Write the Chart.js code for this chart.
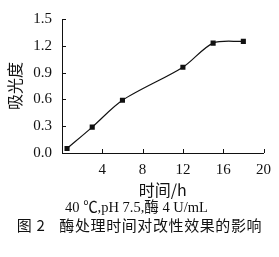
<!DOCTYPE html>
<html>
<head>
<meta charset="utf-8">
<script src="https://cdn.jsdelivr.net/npm/chart.js@4"></script>
<style>
  body { margin: 0; background: #fff; }
  #wrap { position: relative; width: 279px; height: 257px; }
  .cap { position: absolute; left: 0; width: 279px; text-align: center; color: #111; white-space: pre; }
</style>
</head>
<body>
<div id="wrap">
  <canvas id="c" width="279" height="200" style="width:279px;height:200px"></canvas>
  <div class="cap" style="top:195px;left:-3px;font:14.5px 'Liberation Serif','Noto Sans CJK SC';">40 ℃,pH 7.5,酶 4 U/mL</div>
  <div class="cap" style="top:214px;font:15px 'Noto Sans CJK SC';letter-spacing:0.6px;"><span>图 2</span><span style="margin-left:14px">酶处理时间对改性效果的影响</span></div>
</div>
<script>
// time (h) vs absorbance
const times = [0.5, 3, 6, 12, 15, 18];
const absorbance = [0.05, 0.29, 0.59, 0.96, 1.23, 1.25];
const xTicks = [0, 4, 8, 12, 16, 20];
const yTicks = [0, 0.3, 0.6, 0.9, 1.2, 1.5];

const ink = '#111';
const numFont = { family: "'Liberation Serif', 'Times New Roman', serif", size: 15 };
const cjkFont = { family: "'Noto Sans CJK SC', sans-serif", size: 16 };

// short ticks pointing into the plot
const innerTicks = {
  id: 'innerTicks',
  afterDraw(chart) {
    const { ctx, scales: { x, y } } = chart;
    ctx.save();
    ctx.strokeStyle = ink;
    ctx.lineWidth = 1;
    ctx.beginPath();
    xTicks.forEach(v => {
      const px = Math.round(x.getPixelForValue(v)) + 0.5;
      ctx.moveTo(px, y.bottom);
      ctx.lineTo(px, y.bottom - 4);
    });
    yTicks.forEach(v => {
      const py = Math.round(y.getPixelForValue(v)) + 0.5;
      ctx.moveTo(x.left, py);
      ctx.lineTo(x.left + 4, py);
    });
    ctx.stroke();
    ctx.restore();
  }
};

new Chart(document.getElementById('c'), {
  type: 'scatter',
  data: {
    datasets: [{
      data: times.map((t, i) => ({ x: t, y: absorbance[i] })),
      showLine: true,
      tension: 0.3,
      borderColor: ink,
      borderWidth: 1.2,
      backgroundColor: ink,
      pointStyle: 'rect',
      pointRadius: 3.6,
      pointBorderWidth: 0
    }]
  },
  options: {
    responsive: false,
    animation: false,
    layout: { padding: { top: 9, right: 15, left: 0, bottom: 0 } },
    plugins: { legend: { display: false }, tooltip: { enabled: false } },
    scales: {
      x: {
        type: 'linear',
        min: 0, max: 20,
        afterBuildTicks: s => { s.ticks = xTicks.map(v => ({ value: v })); },
        afterFit: s => { s.height = 47; },
        ticks: {
          color: ink, font: numFont, padding: 8,
          callback: v => (v === 0 ? '' : v)
        },
        grid: { display: false, drawTicks: false },
        border: { color: ink, width: 1 },
        title: { display: true, text: '时间/h', color: ink, font: cjkFont, padding: { top: 0, bottom: 0 } }
      },
      y: {
        min: 0, max: 1.5,
        afterBuildTicks: s => { s.ticks = yTicks.map(v => ({ value: v })); },
        afterFit: s => { s.width = 62; },
        ticks: {
          color: ink, font: numFont, padding: 10,
          callback: v => v.toFixed(1)
        },
        grid: { display: false, drawTicks: false },
        border: { color: ink, width: 1 },
        title: { display: true, text: '吸光度', color: ink, font: cjkFont, padding: { top: 5, bottom: 0 } }
      }
    }
  },
  plugins: [innerTicks]
});
</script>
</body>
</html>
